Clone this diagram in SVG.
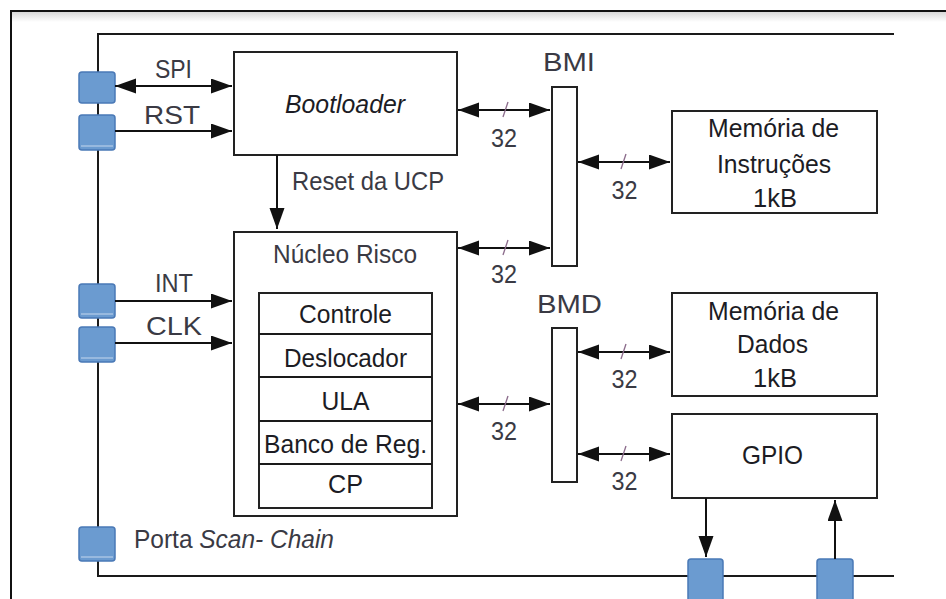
<svg xmlns="http://www.w3.org/2000/svg" width="946" height="599" viewBox="0 0 946 599">
<defs>
<marker id="ah" markerUnits="userSpaceOnUse" markerWidth="22" markerHeight="16" refX="21" refY="7.5" orient="auto-start-reverse">
<path d="M0,0 L21,7.5 L0,15 z" fill="#111"/>
</marker>
<linearGradient id="sh" x1="0" y1="0" x2="0" y2="1">
<stop offset="0" stop-color="#d8d8d8"/>
<stop offset="1" stop-color="#ffffff"/>
</linearGradient>
<style>
.t{font-family:"Liberation Sans",Arial,sans-serif;font-size:26px;fill:#1c1c24;text-anchor:middle}
.l{font-family:"Liberation Sans",Arial,sans-serif;font-size:26px;fill:#3a3a44;text-anchor:middle}
.n{font-family:"Liberation Sans",Arial,sans-serif;font-size:25px;fill:#3a3a44;text-anchor:middle}
.box{fill:#fff;stroke:#222;stroke-width:2}
.pad{fill:#6b9bd0;stroke:#4a79b6;stroke-width:1.5}
.pl{stroke:#c5d7ee;stroke-width:1}
.w{fill:none;stroke:#1a1a1a;stroke-width:2}
.c{fill:none;stroke:#111;stroke-width:2}
.sl{stroke:#8a6a8a;stroke-width:1.3}
</style>
</defs>
<rect x="0" y="0" width="946" height="599" fill="#fff"/>
<rect x="12" y="12" width="934" height="10" fill="url(#sh)"/>
<path d="M11,599 V11 H946" fill="none" stroke="#111" stroke-width="2"/>
<path class="w" d="M894,34 H98 V576 H894"/>

<g id="bootloader">
<rect class="box" x="234" y="52" width="223" height="103"/>
<text class="t" x="345" y="113" font-style="italic" textLength="120" lengthAdjust="spacingAndGlyphs">Bootloader</text>
</g>

<g id="nucleo">
<rect class="box" x="234" y="232" width="223" height="284"/>
<text class="l" x="345" y="263" textLength="144" lengthAdjust="spacingAndGlyphs">Núcleo Risco</text>
<rect class="box" x="259" y="293" width="173" height="215"/>
<path class="w" d="M259,334 H432 M259,377 H432 M259,421 H432 M259,464 H432"/>
<text class="t" x="345.5" y="323" textLength="93" lengthAdjust="spacingAndGlyphs">Controle</text>
<text class="t" x="345.5" y="367" textLength="123" lengthAdjust="spacingAndGlyphs">Deslocador</text>
<text class="t" x="345.5" y="410" textLength="48" lengthAdjust="spacingAndGlyphs">ULA</text>
<text class="t" x="345.5" y="453" textLength="163" lengthAdjust="spacingAndGlyphs">Banco de Reg.</text>
<text class="t" x="345.5" y="493" textLength="35" lengthAdjust="spacingAndGlyphs">CP</text>
</g>

<g id="bmi">
<rect class="box" x="552" y="87" width="25" height="179"/>
<text class="l" x="569" y="71" textLength="52" lengthAdjust="spacingAndGlyphs">BMI</text>
</g>

<g id="bmd">
<rect class="box" x="552" y="328" width="25" height="154"/>
<text class="l" x="569.5" y="313" textLength="65" lengthAdjust="spacingAndGlyphs">BMD</text>
</g>

<g id="mem-instrucoes">
<rect class="box" x="672" y="111" width="205" height="102"/>
<text class="t" x="773.5" y="137" textLength="131" lengthAdjust="spacingAndGlyphs">Memória de</text>
<text class="t" x="774" y="173" textLength="114" lengthAdjust="spacingAndGlyphs">Instruções</text>
<text class="t" x="775" y="207" textLength="44" lengthAdjust="spacingAndGlyphs">1kB</text>
</g>

<g id="mem-dados">
<rect class="box" x="672" y="293" width="205" height="103"/>
<text class="t" x="773.5" y="320" textLength="131" lengthAdjust="spacingAndGlyphs">Memória de</text>
<text class="t" x="772.5" y="353" textLength="71" lengthAdjust="spacingAndGlyphs">Dados</text>
<text class="t" x="775" y="387" textLength="44" lengthAdjust="spacingAndGlyphs">1kB</text>
</g>

<g id="gpio">
<rect class="box" x="672" y="414" width="205" height="84"/>
<text class="t" x="772.5" y="464" textLength="61" lengthAdjust="spacingAndGlyphs">GPIO</text>
</g>

<g id="pad-spi"><rect class="pad" x="79" y="72" width="36" height="31" rx="3"/></g>
<g id="pad-rst"><rect class="pad" x="79" y="115" width="36" height="35" rx="3"/><line class="pl" x1="81" y1="146" x2="113" y2="146"/></g>
<g id="pad-int"><rect class="pad" x="79" y="284" width="36" height="34" rx="3"/><line class="pl" x1="81" y1="314" x2="113" y2="314"/></g>
<g id="pad-clk"><rect class="pad" x="79" y="327" width="36" height="35" rx="3"/><line class="pl" x1="81" y1="358" x2="113" y2="358"/></g>
<g id="pad-scan"><rect class="pad" x="79" y="527" width="36" height="34" rx="3"/><line class="pl" x1="81" y1="557" x2="113" y2="557"/>
<text x="134" y="548" style="font-family:'Liberation Sans',Arial,sans-serif;font-size:25px;fill:#3a3a44" textLength="200" lengthAdjust="spacingAndGlyphs">Porta <tspan font-style="italic">Scan- Chain</tspan></text></g>
<g id="pad-gpio-out"><rect class="pad" x="688" y="559" width="35" height="45" rx="3"/></g>
<g id="pad-gpio-in"><rect class="pad" x="817" y="559" width="36" height="45" rx="3"/></g>

<g id="connectors">
<line class="c" x1="115" y1="86" x2="232" y2="86" marker-start="url(#ah)" marker-end="url(#ah)"/>
<text class="l" x="173.5" y="78" textLength="37" lengthAdjust="spacingAndGlyphs">SPI</text>
<line class="c" x1="115" y1="131" x2="232" y2="131" marker-end="url(#ah)"/>
<text class="l" x="172" y="124" textLength="56" lengthAdjust="spacingAndGlyphs">RST</text>
<line class="c" x1="115" y1="301" x2="232" y2="301" marker-end="url(#ah)"/>
<text class="l" x="174" y="292" textLength="38" lengthAdjust="spacingAndGlyphs">INT</text>
<line class="c" x1="115" y1="343" x2="232" y2="343" marker-end="url(#ah)"/>
<text class="l" x="174" y="335" textLength="56" lengthAdjust="spacingAndGlyphs">CLK</text>
<line class="c" x1="277" y1="155" x2="277" y2="229" marker-end="url(#ah)"/>
<text class="l" x="292" y="190" style="text-anchor:start" textLength="152" lengthAdjust="spacingAndGlyphs">Reset da UCP</text>

<line class="c" x1="458" y1="110" x2="550" y2="110" marker-start="url(#ah)" marker-end="url(#ah)"/>
<line class="sl" x1="503" y1="117" x2="508" y2="102"/>
<text class="n" x="504" y="147" textLength="26" lengthAdjust="spacingAndGlyphs">32</text>
<line class="c" x1="458" y1="248" x2="550" y2="248" marker-start="url(#ah)" marker-end="url(#ah)"/>
<line class="sl" x1="503" y1="255" x2="508" y2="240"/>
<text class="n" x="504" y="283" textLength="26" lengthAdjust="spacingAndGlyphs">32</text>
<line class="c" x1="458" y1="404" x2="550" y2="404" marker-start="url(#ah)" marker-end="url(#ah)"/>
<line class="sl" x1="503" y1="411" x2="508" y2="396"/>
<text class="n" x="504" y="440" textLength="26" lengthAdjust="spacingAndGlyphs">32</text>

<line class="c" x1="578" y1="162" x2="670" y2="162" marker-start="url(#ah)" marker-end="url(#ah)"/>
<line class="sl" x1="621" y1="169" x2="626" y2="154"/>
<text class="n" x="624.5" y="199" textLength="26" lengthAdjust="spacingAndGlyphs">32</text>
<line class="c" x1="578" y1="352" x2="670" y2="352" marker-start="url(#ah)" marker-end="url(#ah)"/>
<line class="sl" x1="621" y1="359" x2="626" y2="344"/>
<text class="n" x="624.5" y="388" textLength="26" lengthAdjust="spacingAndGlyphs">32</text>
<line class="c" x1="578" y1="454" x2="670" y2="454" marker-start="url(#ah)" marker-end="url(#ah)"/>
<line class="sl" x1="621" y1="461" x2="626" y2="446"/>
<text class="n" x="624.5" y="490" textLength="26" lengthAdjust="spacingAndGlyphs">32</text>

<line class="c" x1="706" y1="498" x2="706" y2="557" marker-end="url(#ah)"/>
<line class="c" x1="835" y1="559" x2="835" y2="500" marker-end="url(#ah)"/>
</g>
</svg>
